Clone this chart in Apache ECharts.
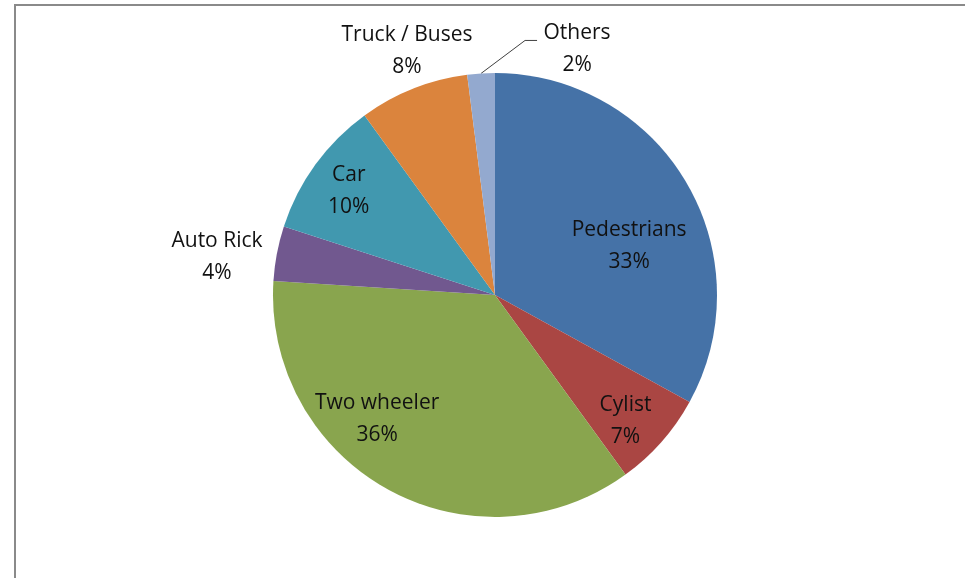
<!DOCTYPE html>
<html>
<head>
<meta charset="utf-8">
<script src="https://cdn.jsdelivr.net/npm/echarts@6/dist/echarts.min.js"></script>
<style>
  html, body { margin: 0; padding: 0; background: #fff; }
  #chart { width: 965px; height: 578px; }
</style>
</head>
<body>
<div id="chart"></div>
<script>
// 数据
var categories = ['Pedestrians', 'Cylist', 'Two wheeler', 'Auto Rick', 'Car', 'Truck / Buses', 'Others']
var shares = [33, 7, 36, 4, 10, 8, 2]

// 样式
var colors = ['#4572a7', '#aa4643', '#89a54e', '#71588f', '#4198af', '#db843d', '#93a9cf']
// label offsets from the default inside position
var labelOffsets = [[36, 9], [45, 51], [-63, 24], [-166, -17], [-54, -37], [-46, -138], [0, 0]]

var pieData = categories.map(function (name, i) {
  var item = {
    name: name,
    value: shares[i],
    itemStyle: { color: colors[i] },
    label: { offset: labelOffsets[i] }
  }
  if (i === 6) {
    item.label = { position: 'outside' }
    item.labelLine = { show: true, length: 20, length2: 10 }
  }
  return item
})

var myChart = echarts.init(document.getElementById('chart'))
myChart.setOption({
  animation: false,
  backgroundColor: '#fff',
  graphic: [{
    type: 'rect',
    shape: { x: 15, y: 5, width: 1000, height: 620 },
    style: { fill: 'none', stroke: '#8a8a8a', lineWidth: 2 }
  }],
  series: [{
    type: 'pie',
    center: [495, 295],
    radius: 222,
    startAngle: 90,
    clockwise: true,
    avoidLabelOverlap: false,
    minShowLabelAngle: 0,
    itemStyle: { borderWidth: 0 },
    label: {
      show: true,
      position: 'inside',
      formatter: function (p) { return p.name + '\n' + p.value + '%' },
      color: '#111',
      fontFamily: 'Open Sans',
      fontSize: 21,
      lineHeight: 32,
      align: 'center'
    },
    labelLine: { show: false, lineStyle: { color: '#404040', width: 1 } },
    labelLayout: function (params) {
      // Others: label up and to the right with an elbow leader line
      if (params.dataIndex !== 6 || !params.labelLinePoints) return {}
      var p0 = params.labelLinePoints[0]
      return {
        x: p0[0] + 96,
        y: p0[1] - 24,
        align: 'center',
        verticalAlign: 'middle',
        labelLinePoints: [p0, [p0[0] + 44, p0[1] - 33], [p0[0] + 56, p0[1] - 33]]
      }
    },
    data: pieData
  }]
})
</script>
</body>
</html>
